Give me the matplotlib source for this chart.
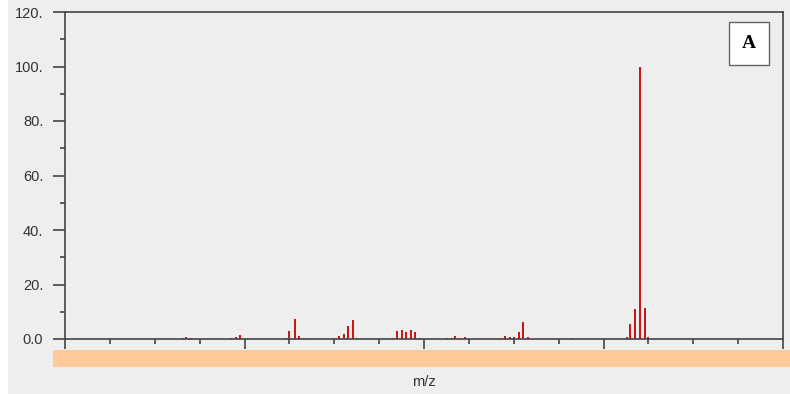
import matplotlib.pyplot as plt
from matplotlib.patches import Rectangle
from matplotlib.ticker import MultipleLocator

# Peak positions (m/z) and relative intensities
MZ = [165.6, 167.2, 170.2, 192.5, 195.4, 197.7, 223.1, 225.0, 228.0, 230.2,
      233.1, 252.6, 255.4, 257.7, 260.4, 262.7, 282.7, 285.0, 287.7, 290.0,
      292.9, 295.2, 297.9, 312.6, 315.4, 317.4, 320.4, 322.7, 342.9, 345.1,
      347.9, 350.1, 352.8, 355.0, 358.0, 382.7, 412.9, 414.8, 417.7, 420.1,
      422.9, 424.9]
INTENSITY = [0.3, 0.7, 0.3, 0.5, 0.7, 1.6, 0.3, 2.8, 7.5, 1.1,
             0.3, 1.1, 1.7, 4.7, 7.0, 0.3, 0.3, 2.9, 3.4, 2.4,
             3.4, 2.4, 0.3, 0.3, 0.5, 1.2, 0.3, 0.7, 0.3, 1.1,
             0.7, 0.7, 2.6, 6.2, 0.7, 0.3, 0.9, 5.5, 10.9, 100.0,
             11.5, 0.7]
Y_TICKS = [0, 20, 40, 60, 80, 100, 120]
Y_TICK_LABELS = ["0.0", "20.", "40.", "60.", "80.", "100.", "120."]
PANEL_LABEL = "A"
X_LABEL = "m/z"

W, H = 790, 394
BG = "#EEEEEE"
AXIS_COLOR = "#444444"


def px(x0, y0, x1, y1):
    """Pixel box (top-left origin) -> figure fraction rect."""
    return [x0 / W, 1 - y1 / H, (x1 - x0) / W, (y1 - y0) / H]


def make_plot(output_path):
    plt.rcParams["font.family"] = ["Liberation Sans", "DejaVu Sans"]
    fig = plt.figure(figsize=(W / 100, H / 100), dpi=100)
    fig.patch.set_facecolor(BG)

    # white strip on the far left
    fig.patches.append(Rectangle((0, 0), 8 / W, 1, transform=fig.transFigure,
                                 facecolor="white", edgecolor="none", zorder=0))

    ax = fig.add_axes(px(65, 12, 783, 339))
    ax.set_facecolor(BG)
    ax.vlines(MZ, 0, INTENSITY, colors="#C81010", linewidth=1.4)

    ax.set_xlim(100, 500)
    ax.set_ylim(0, 120)
    ax.xaxis.set_major_locator(MultipleLocator(100))
    ax.xaxis.set_minor_locator(MultipleLocator(25))
    ax.set_yticks(Y_TICKS)
    ax.set_yticklabels(Y_TICK_LABELS)
    ax.yaxis.set_minor_locator(MultipleLocator(10))

    ax.tick_params(axis="x", which="major", direction="out", length=7.5,
                   width=1.2, color=AXIS_COLOR, labelbottom=False)
    ax.tick_params(axis="x", which="minor", direction="out", length=3.8,
                   width=1.2, color=AXIS_COLOR)
    ax.tick_params(axis="y", which="major", direction="out", length=8.6,
                   width=1.2, color=AXIS_COLOR, pad=7, labelsize=10.5,
                   labelcolor="#333333")
    ax.tick_params(axis="y", which="minor", direction="out", length=3.6,
                   width=1.2, color=AXIS_COLOR)
    for spine in ax.spines.values():
        spine.set_color(AXIS_COLOR)
        spine.set_linewidth(1.2)

    # panel label box
    ax.text(0.9526, 0.904, PANEL_LABEL, transform=ax.transAxes,
            ha="center", va="center", fontsize=14, fontweight="bold",
            family="Liberation Serif",
            bbox=dict(boxstyle="square,pad=0.68", facecolor="white",
                      edgecolor="#666666", linewidth=1))

    # orange strip under the axis
    band = fig.add_axes(px(53, 350, 790, 367))
    band.set_facecolor("#FFC999")
    band.set_xticks([])
    band.set_yticks([])
    for spine in band.spines.values():
        spine.set_visible(False)

    fig.text(424 / W, 1 - 382 / H, X_LABEL, ha="center", va="center",
             fontsize=10.5, color="#333333")

    fig.savefig(output_path, dpi=100, facecolor=fig.get_facecolor())


if __name__ == "__main__":
    make_plot("out.png")
